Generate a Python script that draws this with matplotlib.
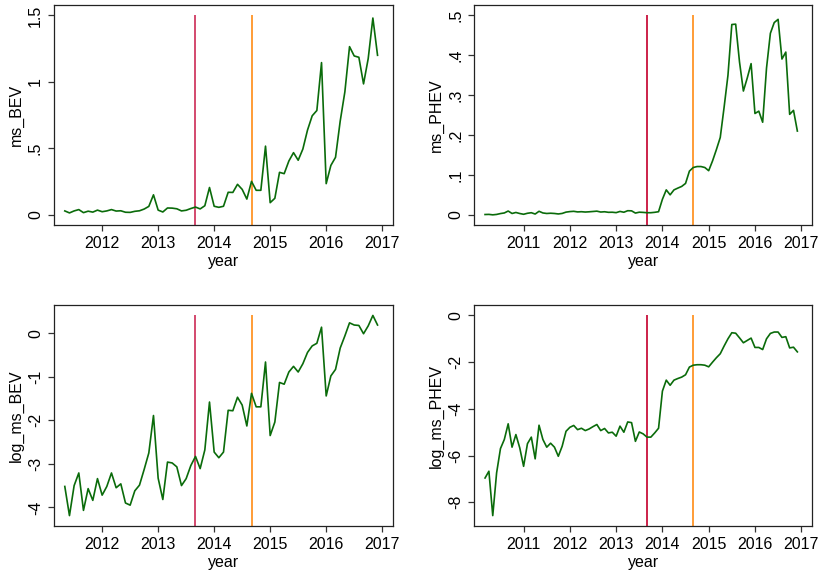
import matplotlib
matplotlib.use("Agg")
import matplotlib.pyplot as plt
import numpy as np

plt.rcParams.update({
    'font.family': ['Liberation Sans', 'DejaVu Sans'],
    'font.size': 11.5,
})

# monthly series, x = year + (month-1)/12
bev_start = (2011, 5)   # May 2011 .. Dec 2016
phev_start = (2010, 3)  # Mar 2010 .. Dec 2016

ms_bev = [0.030, 0.015, 0.030, 0.040, 0.017, 0.028, 0.021, 0.036,
          0.024, 0.030, 0.040, 0.029, 0.031, 0.020, 0.019, 0.027,
          0.031, 0.044, 0.064, 0.151, 0.036, 0.022, 0.052, 0.051,
          0.046, 0.030, 0.035, 0.048, 0.059, 0.045, 0.069, 0.206,
          0.065, 0.057, 0.065, 0.170, 0.169, 0.230, 0.192, 0.119,
          0.252, 0.185, 0.185, 0.517, 0.092, 0.125, 0.320, 0.310,
          0.405, 0.468, 0.411, 0.495, 0.638, 0.745, 0.785, 1.145,
          0.235, 0.372, 0.433, 0.705, 0.925, 1.265, 1.195, 1.185,
          0.985, 1.175, 1.480, 1.200]

log_ms_bev = [-3.52, -4.19, -3.50, -3.21, -4.07, -3.57, -3.84, -3.34,
              -3.72, -3.52, -3.21, -3.55, -3.46, -3.90, -3.95, -3.62,
              -3.49, -3.13, -2.75, -1.89, -3.33, -3.82, -2.96, -2.98,
              -3.07, -3.50, -3.34, -3.04, -2.83, -3.11, -2.68, -1.58,
              -2.73, -2.86, -2.73, -1.77, -1.78, -1.47, -1.65, -2.13,
              -1.38, -1.69, -1.69, -0.66, -2.35, -2.04, -1.13, -1.17,
              -0.89, -0.76, -0.89, -0.70, -0.44, -0.29, -0.23, 0.14,
              -1.44, -0.98, -0.83, -0.34, -0.06, 0.24, 0.19, 0.18,
              -0.01, 0.17, 0.41, 0.19]

ms_phev = [0.0010, 0.0013, 0.0002, 0.0012, 0.0034, 0.0049, 0.0097, 0.0036,
           0.0061, 0.0035, 0.0016, 0.0041, 0.0055, 0.0022, 0.0091, 0.0049,
           0.0036, 0.0042, 0.0036, 0.0024, 0.0037, 0.0070, 0.0083, 0.0090,
           0.0075, 0.0080, 0.0072, 0.0078, 0.0086, 0.0094, 0.0072, 0.0079,
           0.0065, 0.0067, 0.0057, 0.0087, 0.0067, 0.0105, 0.0102, 0.0046,
           0.0068, 0.0063, 0.0055, 0.0055, 0.0065, 0.0080, 0.0392, 0.0627,
           0.0503, 0.0627, 0.0672, 0.0714, 0.0789, 0.1097, 0.1188, 0.1212,
           0.1212, 0.1188, 0.1108, 0.1353, 0.1637, 0.1940, 0.2698, 0.3500,
           0.4771, 0.4780, 0.3829, 0.3104, 0.3430, 0.3791, 0.2541, 0.2600,
           0.2322, 0.3679, 0.4550, 0.4820, 0.4900, 0.3906, 0.4080, 0.2520,
           0.2620, 0.2101]

log_ms_phev = [-6.96, -6.67, -8.57, -6.74, -5.70, -5.31, -4.64, -5.64,
               -5.10, -5.67, -6.46, -5.49, -5.21, -6.14, -4.70, -5.31,
               -5.64, -5.47, -5.64, -6.03, -5.60, -4.96, -4.79, -4.71,
               -4.89, -4.83, -4.93, -4.86, -4.76, -4.67, -4.93, -4.84,
               -5.03, -5.00, -5.17, -4.74, -5.00, -4.56, -4.59, -5.39,
               -4.99, -5.07, -5.21, -5.21, -5.03, -4.83, -3.24, -2.77,
               -2.99, -2.77, -2.70, -2.64, -2.54, -2.21, -2.13, -2.11,
               -2.11, -2.13, -2.20, -2.00, -1.81, -1.64, -1.31, -1.00,
               -0.74, -0.76, -0.96, -1.17, -1.07, -0.97, -1.37, -1.37,
               -1.46, -1.00, -0.77, -0.71, -0.71, -0.94, -0.91, -1.39,
               -1.36, -1.56]

event_dates = [2013 + 8 / 12, 2014 + 8 / 12]   # Sep 2013, Sep 2014

bev_xticks = [2012, 2013, 2014, 2015, 2016, 2017]
phev_xticks = [2011, 2012, 2013, 2014, 2015, 2016, 2017]

yticks_ms_bev = [0, 0.5, 1, 1.5]
ylabels_ms_bev = ['0', '.5', '1', '1.5']
yticks_ms_phev = [0, 0.1, 0.2, 0.3, 0.4, 0.5]
ylabels_ms_phev = ['0', '.1', '.2', '.3', '.4', '.5']
yticks_log_bev = [-4, -3, -2, -1, 0]
ylabels_log_bev = ['-4', '-3', '-2', '-1', '0']
yticks_log_phev = [-8, -6, -4, -2, 0]
ylabels_log_phev = ['-8', '-6', '-4', '-2', '0']


def monthly_x(start, n):
    y0, m0 = start
    return y0 + (m0 - 1 + np.arange(n)) / 12.0


def panel(ax, x, y, xticks, yticks, ylabels, ylab, red):
    lo_x, hi_x = min(x[0], xticks[0]), max(x[-1], xticks[-1])
    rx = hi_x - lo_x
    ax.set_xlim(lo_x - 0.034 * rx, hi_x + 0.034 * rx)
    lo_y, hi_y = min(min(y), yticks[0]), max(max(y), yticks[-1])
    ry = hi_y - lo_y
    ylim = (lo_y - 0.052 * ry, hi_y + 0.052 * ry)
    ax.set_ylim(*ylim)

    ax.vlines(event_dates[0], ylim[0], hi_y, color=red, lw=1.3, zorder=2)
    ax.vlines(event_dates[1], ylim[0], hi_y, color='#FF9426', lw=1.3, zorder=2)
    ax.plot(x, y, color='#0A6B0A', lw=1.2, zorder=3)

    ax.set_xticks(xticks)
    ax.set_xticklabels([str(t) for t in xticks])
    ax.set_yticks(yticks)
    ax.set_yticklabels(ylabels, rotation=90, va='center')
    ax.tick_params(direction='out', length=4, width=0.9, color='#333333',
                   labelsize=11.5, pad=4)
    ax.set_xlabel('year', labelpad=2)
    ax.set_ylabel(ylab, labelpad=3)
    for s in ax.spines.values():
        s.set_linewidth(0.9)
        s.set_color('#222222')


fig = plt.figure(figsize=(8.22, 5.75), dpi=100)
fig.patch.set_facecolor('white')

ax_tl = fig.add_axes([0.0657, 0.6082, 0.4124, 0.3831])
ax_tr = fig.add_axes([0.5770, 0.6082, 0.4108, 0.3831])
ax_bl = fig.add_axes([0.0657, 0.0852, 0.4124, 0.3843])
ax_br = fig.add_axes([0.5770, 0.0852, 0.4108, 0.3843])

x_bev = monthly_x(bev_start, len(ms_bev))
x_phev = monthly_x(phev_start, len(ms_phev))

panel(ax_tl, x_bev, ms_bev, bev_xticks, yticks_ms_bev, ylabels_ms_bev,
      'ms_BEV', '#D03A62')
panel(ax_tr, x_phev, ms_phev, phev_xticks, yticks_ms_phev, ylabels_ms_phev,
      'ms_PHEV', '#C8103C')
panel(ax_bl, x_bev, log_ms_bev, bev_xticks, yticks_log_bev, ylabels_log_bev,
      'log_ms_BEV', '#D03A62')
panel(ax_br, x_phev, log_ms_phev, phev_xticks, yticks_log_phev, ylabels_log_phev,
      'log_ms_PHEV', '#C8103C')

fig.savefig('out.png', dpi=100, facecolor='white')
